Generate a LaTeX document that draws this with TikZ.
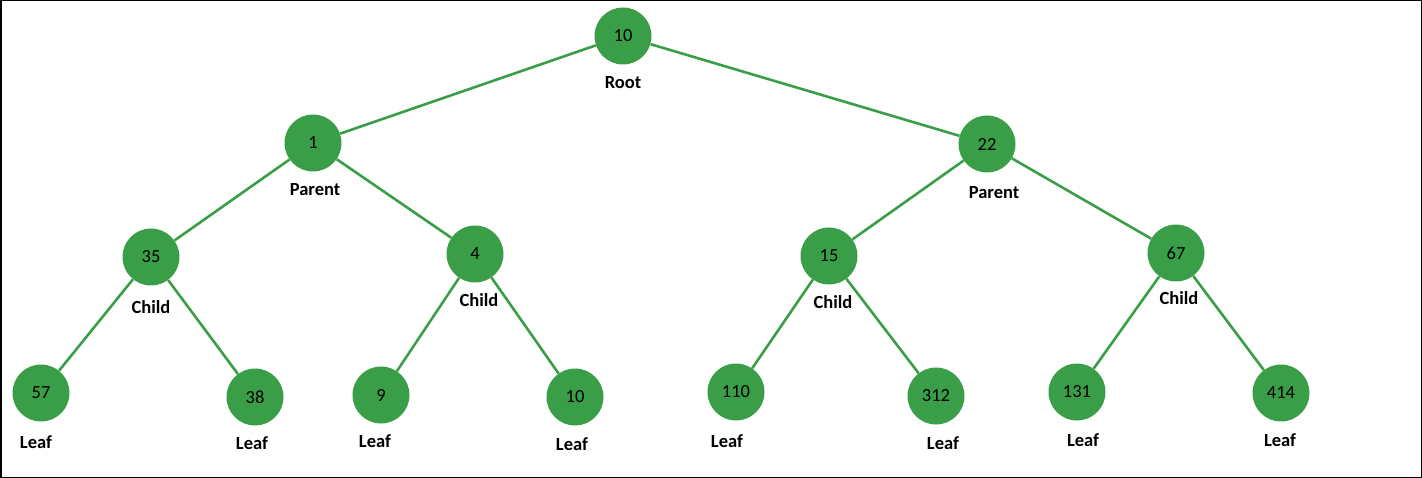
\documentclass[tikz,border=0pt]{standalone}
\usepackage{fontspec}
\setmainfont{Carlito}
\definecolor{tgreen}{RGB}{58,158,72}
\begin{document}
\begin{tikzpicture}[x=1pt,y=-1pt,
  tnode/.style={circle,fill=tgreen,minimum size=57pt,inner sep=0pt,font=\fontsize{18.5}{20}\selectfont},
  tlabel/.style={font=\bfseries\fontsize{18.5}{20}\selectfont},
  edge/.style={draw=tgreen,line width=2.6pt}]
\draw[line width=1.5pt] (0.75,0.75) rectangle (1421.25,477.25);
\useasboundingbox (0,0) rectangle (1422,478);
\node[tnode] (n10) at (623,36) {10};
\node[tnode] (n1) at (313,143) {1};
\node[tnode] (n22) at (987,144) {22};
\node[tnode] (n35) at (151,257) {35};
\node[tnode] (n4) at (475,254) {4};
\node[tnode] (n15) at (829,256) {15};
\node[tnode] (n67) at (1176,253) {67};
\node[tnode] (n57) at (41,393) {57};
\node[tnode] (n38) at (255,397) {38};
\node[tnode] (n9) at (381,395) {9};
\node[tnode] (n10b) at (575,397) {10};
\node[tnode] (n110) at (736,392) {110};
\node[tnode] (n312) at (936,396) {312};
\node[tnode] (n131) at (1077,392) {131};
\node[tnode] (n414) at (1281,393) {414};
\path[edge] (n10) -- (n1);
\path[edge] (n10) -- (n22);
\path[edge] (n1) -- (n35);
\path[edge] (n1) -- (n4);
\path[edge] (n22) -- (n15);
\path[edge] (n22) -- (n67);
\path[edge] (n35) -- (n57);
\path[edge] (n35) -- (n38);
\path[edge] (n4) -- (n9);
\path[edge] (n4) -- (n10b);
\path[edge] (n15) -- (n110);
\path[edge] (n15) -- (n312);
\path[edge] (n67) -- (n131);
\path[edge] (n67) -- (n414);
\node[tlabel] (lroot) at (623,83) {Root};
\node[tlabel] (lp1) at (315,190) {Parent};
\node[tlabel] (lp2) at (994,193) {Parent};
\node[tlabel] (lc1) at (151,307) {Child};
\node[tlabel] (lc2) at (479,300) {Child};
\node[tlabel] (lc3) at (833,302) {Child};
\node[tlabel] (lc4) at (1179,298) {Child};
\node[tlabel] (ll1) at (36,442) {Leaf};
\node[tlabel] (ll2) at (252,443) {Leaf};
\node[tlabel] (ll3) at (375,441) {Leaf};
\node[tlabel] (ll4) at (572,444) {Leaf};
\node[tlabel] (ll5) at (727,441) {Leaf};
\node[tlabel] (ll6) at (943,443) {Leaf};
\node[tlabel] (ll7) at (1083,440) {Leaf};
\node[tlabel] (ll8) at (1280,440) {Leaf};
\end{tikzpicture}
\end{document}
